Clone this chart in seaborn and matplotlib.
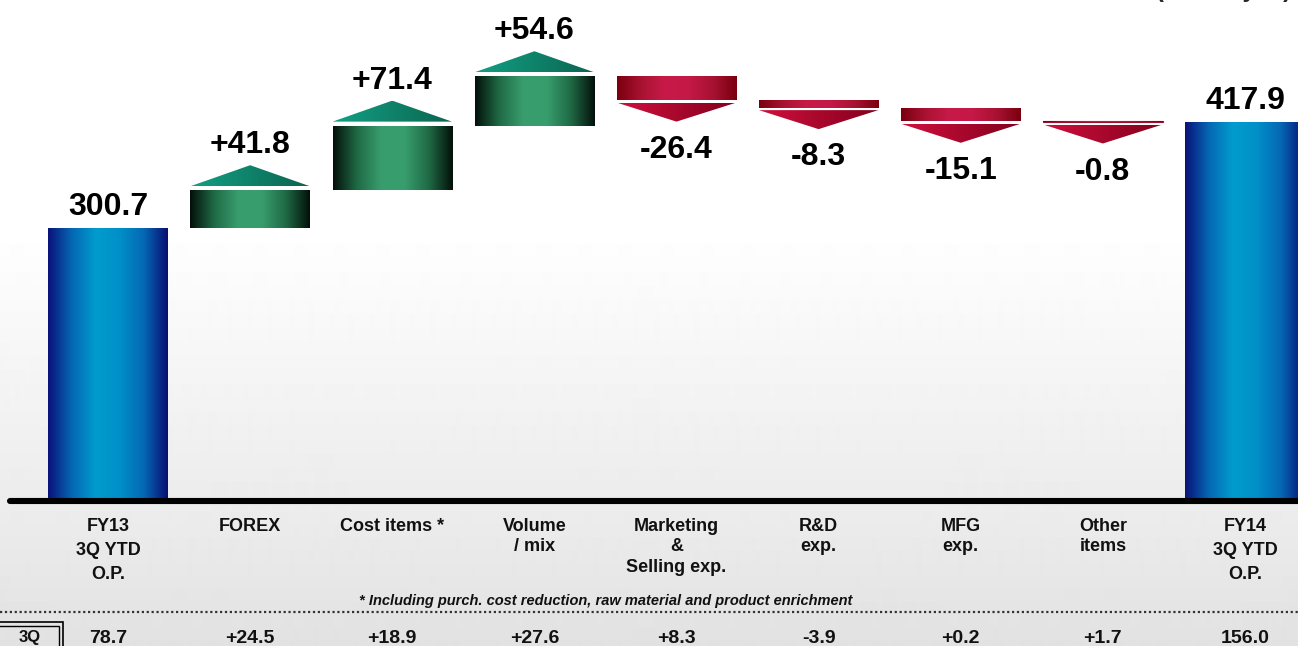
import numpy as np
import pandas as pd
import seaborn as sns
import matplotlib.pyplot as plt
from matplotlib.colors import LinearSegmentedColormap
from matplotlib.patches import Polygon, Rectangle

# operating profit bridge FY13 3Q YTD -> FY14 3Q YTD (billion yen)
categories = ['FY13\n3Q YTD\nO.P.', 'FOREX', 'Cost items *', 'Volume\n/ mix',
              'Marketing\n&\nSelling exp.', 'R&D\nexp.', 'MFG\nexp.', 'Other\nitems',
              'FY14\n3Q YTD\nO.P.']
start_value = 300.7
changes = [41.8, 71.4, 54.6, -26.4, -8.3, -15.1, -0.8]
end_value = 417.9
bar_labels = ['300.7', '+41.8', '+71.4', '+54.6', '-26.4', '-8.3', '-15.1', '-0.8', '417.9']
q3_values = ['78.7', '+24.5', '+18.9', '+27.6', '+8.3', '-3.9', '+0.2', '+1.7', '156.0']
footnote = '* Including purch. cost reduction, raw material and product enrichment'

sns.set_style('white')
plt.rcParams['font.family'] = ['Liberation Sans', 'DejaVu Sans']
plt.rcParams['font.weight'] = 'bold'

levels = np.concatenate([[start_value], start_value + np.cumsum(changes)])
bottoms = [0.0] + list(np.minimum(levels[:-1], levels[1:])) + [0.0]
heights = [start_value] + [abs(c) for c in changes] + [end_value]
df = pd.DataFrame({'item': categories, 'height': heights})

PX = 0.9045  # pixels per billion yen
W, H = 1298, 646


def py(px):
    return (500 - px) / PX


fig = plt.figure(figsize=(W / 100, H / 100), dpi=100)

# background: white fading to light grey towards the axis, grey table area
bg = fig.add_axes([0, 0, 1, 1])
bg.axis('off')
rows = np.arange(H)
shade = np.where(rows < 230, 1.0, 1.0 - 0.075 * (rows - 230) / 268)
shade = np.where(rows >= 498, 0.93 - 0.045 * (rows - 498) / 148, shade)
bg.imshow(shade[:, None], cmap='gray', vmin=0, vmax=1, aspect='auto',
          extent=[0, 1, 0, 1], interpolation='bilinear')

ax = fig.add_axes([0, 0, 1, 1])
ax.patch.set_alpha(0)
sns.barplot(data=df, x='item', y='height', width=0.84, color='white',
            saturation=1, ax=ax)

blue = LinearSegmentedColormap.from_list('b', ['#0a127a', '#0568b4', '#009ccd', '#0090c8', '#0568b4', '#0a0e72'])
green = LinearSegmentedColormap.from_list('g', ['#03100a', '#1f6a45', '#389d6d', '#389d6d', '#1f6a45', '#03100a'])
red = LinearSegmentedColormap.from_list('r', ['#7a000e', '#a81232', '#c81a48', '#c41846', '#a81232', '#7a000e'])
green_tri = LinearSegmentedColormap.from_list('gt', ['#12a084', '#0c6450'])
red_tri = LinearSegmentedColormap.from_list('rt', ['#d0103e', '#82001c'])
ramp = np.linspace(0, 1, 256)[None, :]

label_size = 23

for i, p in enumerate(ax.patches):
    p.set_y(bottoms[i])
    p.set_height(heights[i])
    p.set_facecolor('none')
    p.set_edgecolor('none')
    x0, w = p.get_x(), p.get_width()
    xc = x0 + w / 2
    b, h = bottoms[i], heights[i]
    if i in (0, len(categories) - 1):
        cmap = blue
    elif changes[i - 1] > 0:
        cmap = green
    else:
        cmap = red
    im = ax.imshow(ramp, cmap=cmap, extent=[x0, x0 + w, b, b + max(h, 1.5)],
                   aspect='auto', zorder=2, interpolation='bilinear')
    im.set_clip_path(p)
    if h < 1.5:
        p.set_edgecolor('#a0102e')
        p.set_linewidth(0.8)

    if i in (0, len(categories) - 1):
        ax.text(xc, b + h + 13 / PX, bar_labels[i], ha='center', va='baseline',
                fontsize=label_size, fontweight='bold', color='black', zorder=4)
        continue
    c = changes[i - 1]
    if c > 0:
        base = levels[i] + 4 / PX
        tip = base + 21 / PX
        tri_cmap = green_tri
        lab_y = tip + 12 / PX
    else:
        base = levels[i] - 2.5 / PX
        tip = base - 19 / PX
        tri_cmap = red_tri
        lab_y = tip - 36 / PX
    tri = Polygon([(x0, base), (x0 + w, base), (xc, tip)], closed=True,
                  facecolor='none', edgecolor='none')
    ax.add_patch(tri)
    ti = ax.imshow(ramp, cmap=tri_cmap, extent=[x0, x0 + w, min(base, tip), max(base, tip)],
                   aspect='auto', zorder=2, interpolation='bilinear')
    ti.set_clip_path(tri)
    ax.text(xc, lab_y, bar_labels[i], ha='center', va='baseline',
            fontsize=label_size, fontweight='bold', color='black', zorder=4)

# axis line
ax.axhline(py(501), xmin=10 / W, xmax=1, color='black', lw=4.4, zorder=5)

# category labels and 3Q row
for i, cat in enumerate(categories):
    ls = 1.55 if cat.startswith('FY') else 1.25
    ax.text(i, py(518), cat, ha='center', va='top', fontsize=13,
            fontweight='bold', linespacing=ls, color='#111111')
    ax.text(i, py(643), q3_values[i], ha='center', va='baseline', fontsize=14,
            fontweight='bold', color='#111111')

ax.text(606 / W, 1 - 601 / H, footnote, transform=ax.transAxes, ha='center',
        va='center', fontsize=10.5, fontstyle='italic', fontweight='bold', color='#111111')
ax.plot([0, 1], [1 - 612 / H] * 2, transform=ax.transAxes, color='#333333',
        lw=1.6, ls=(0, (1, 1.2)), clip_on=False)

ax.add_patch(Rectangle((-2 / W, 1 - 652 / H), 65 / W, 30 / H, transform=ax.transAxes,
                       fill=False, ec='black', lw=1.2, clip_on=False))
ax.add_patch(Rectangle((-2 / W, 1 - 652 / H), 61 / W, 26 / H, transform=ax.transAxes,
                       fill=False, ec='black', lw=1.0, clip_on=False))
ax.text(30 / W, 1 - 642 / H, '3Q', transform=ax.transAxes, ha='center', va='baseline',
        fontsize=12, fontweight='bold', color='#111111')

# unit note, mostly above the top edge as in the source slide
fig.text(1291 / W, 1 + 3 / H, '(Billion yen)', ha='right', va='baseline',
         fontsize=17, fontweight='bold')

ax.set_xlim(-108 / 142.1, 8 + 53 / 142.1)
ax.set_ylim(py(H), py(0))
ax.axis('off')

fig.savefig('out.png', dpi=100)
